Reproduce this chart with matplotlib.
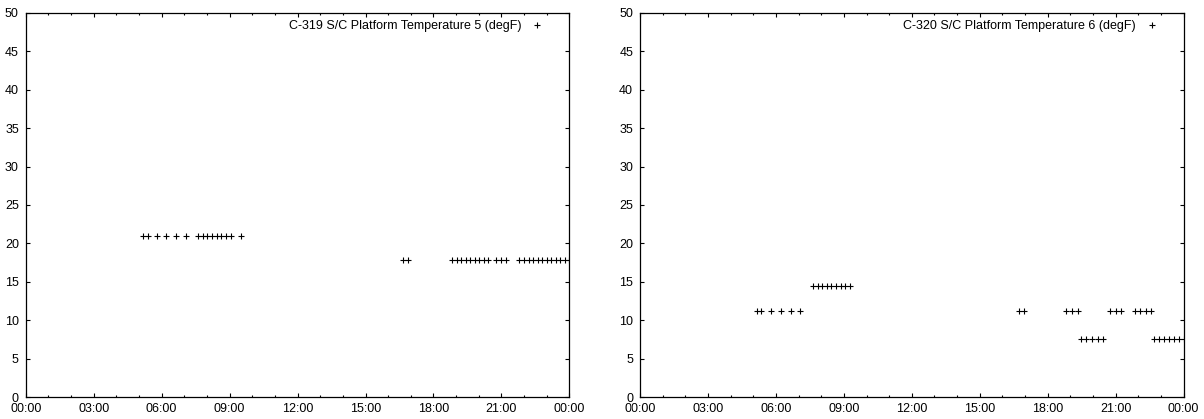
import matplotlib
matplotlib.use("Agg")
from matplotlib import pyplot as plt
from matplotlib.ticker import MultipleLocator, FuncFormatter

plt.rcParams['font.family'] = ['Liberation Sans', 'DejaVu Sans']

# hours of day (0-24) and temperatures (degF)
hours_319 = [5.19, 5.40, 5.78, 6.19, 6.63, 7.07, 7.59, 7.81, 8.01, 8.22,
             8.43, 8.63, 8.84, 9.05, 9.49,
             16.66, 16.88, 18.82, 19.02, 19.22, 19.42, 19.62, 19.82, 20.02,
             20.22, 20.42, 20.75, 20.97, 21.20, 21.78, 21.98, 22.20, 22.40,
             22.60, 22.80, 23.00, 23.20, 23.40, 23.60, 23.80, 23.98]
temp_319 = [21.0] * 15 + [17.8] * 26

hours_320 = [5.16, 5.33, 5.77, 6.22, 6.66, 7.07,
             7.65, 7.85, 8.05, 8.25, 8.45, 8.65, 8.85, 9.05, 9.25,
             16.72, 16.94, 18.82, 19.08, 19.33,
             19.47, 19.71, 19.96, 20.20, 20.44,
             20.77, 21.02, 21.25, 21.83, 22.07, 22.32, 22.57,
             22.68, 22.90, 23.12, 23.34, 23.56, 23.78, 24.00]
temp_320 = ([11.2] * 6 + [14.5] * 9 + [11.2] * 5 + [7.6] * 5
            + [11.2] * 7 + [7.6] * 7)

labels = ["C-319 S/C Platform Temperature 5 (degF)",
          "C-320 S/C Platform Temperature 6 (degF)"]


def hour_fmt(h, pos):
    return "%02d:00" % (int(round(h)) % 24)


def draw(ax, hours, temps, label):
    ax.plot(hours, temps, linestyle='none', marker='+', color='black',
            markersize=5, markeredgewidth=0.8, label=label)
    ax.set_xlim(0, 24)
    ax.set_ylim(0, 50)
    ax.xaxis.set_major_locator(MultipleLocator(3))
    ax.xaxis.set_minor_locator(MultipleLocator(1))
    ax.xaxis.set_major_formatter(FuncFormatter(hour_fmt))
    ax.yaxis.set_major_locator(MultipleLocator(5))
    ax.tick_params(which='both', direction='in', top=True, right=True,
                   labelsize=9, width=0.8)
    ax.tick_params(which='major', length=3)
    ax.tick_params(which='minor', length=1.5)
    ax.tick_params(axis='x', pad=4)
    ax.tick_params(axis='y', pad=5)
    for s in ax.spines.values():
        s.set_linewidth(0.9)
    ax.legend(loc='upper right', bbox_to_anchor=(0.962, 0.994),
              borderaxespad=0, frameon=False, markerfirst=False,
              fontsize=9, handlelength=1.0, handletextpad=0.8)


fig = plt.figure(figsize=(12.04, 4.19), dpi=100)
ax1 = fig.add_axes([0.0214, 0.0518, 0.4515, 0.9179])
ax2 = fig.add_axes([0.5316, 0.0518, 0.4515, 0.9179])
draw(ax1, hours_319, temp_319, labels[0])
draw(ax2, hours_320, temp_320, labels[1])

fig.savefig("out.png", dpi=100)
